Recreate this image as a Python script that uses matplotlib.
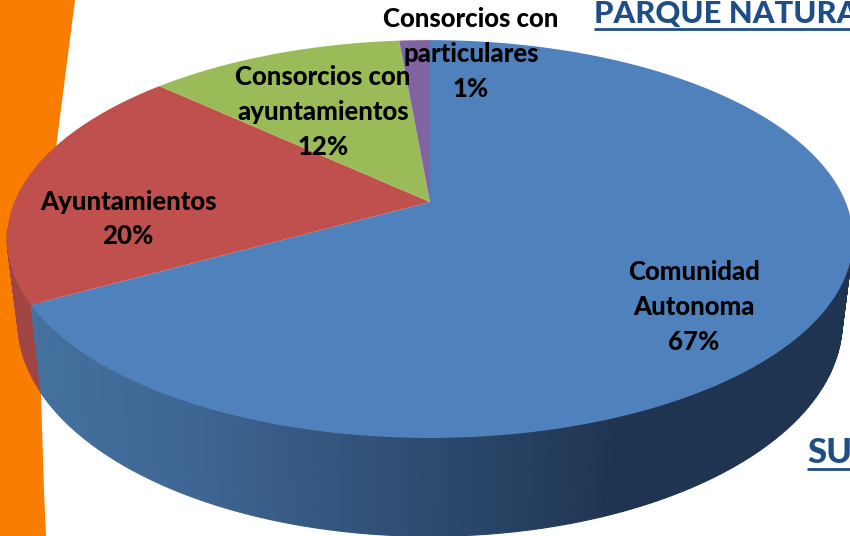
import numpy as np
import matplotlib
matplotlib.use("Agg")
import matplotlib.pyplot as plt
from matplotlib.colors import LinearSegmentedColormap

# data
categories = ["Comunidad\nAutonoma", "Ayuntamientos", "Consorcios con\nayuntamientos", "Consorcios con\nparticulares"]
shares = [66.9, 20.0, 11.7, 1.4]
colors = ["#4F81BD", "#C0504D", "#9BBB59", "#8064A2"]
label_xy = [(694, 307), (128, 219), (323, 112), (471, 54)]
title_text = "PARQUE NATURAL"
sub_text = "SU"

# projected disc geometry (pixels)
K = 0.186
CX, CY, RX, RY = 430, 202, 415.6, 192
CX2, CY2, RX2, RY2 = 430, 282, 405, 207


def top(theta):
    u, v = np.cos(theta), np.sin(theta)
    w = 1 + K * v
    return CX + RX * u / w, CY - RY * v / w


def bottom(theta):
    u, v = np.cos(theta), np.sin(theta)
    w = 1 + K * v
    return CX2 + RX2 * u / w, CY2 - RY2 * v / w


fig = plt.figure(figsize=(8.5, 5.36), dpi=100, facecolor="white")
ax = fig.add_axes([0, 0, 1, 1])
ax.set_xlim(0, 850)
ax.set_ylim(536, 0)
ax.axis("off")

# orange band at left
by = np.array([0, 70, 140, 230, 320, 395, 490, 536])
bx = np.array([75, 66, 57, 47, 41, 41, 44, 46])
ax.fill(np.r_[0, bx, 0], np.r_[0, by, 536], color="#F97D00", lw=0, zorder=1)

# slice boundaries, clockwise from 12 o'clock
fr = np.r_[0, np.cumsum(shares)] / np.sum(shares)
angles = np.pi / 2 - 2 * np.pi * fr

# side wall: red part
edges = np.linspace(angles[1], np.radians(-172), 30)
for a, b in zip(edges[:-1], edges[1:]):
    seg = np.array([a, b])
    xa, ya = top(seg)
    xb, yb = bottom(seg)
    ax.fill(np.r_[xa, xb[::-1]], np.r_[ya, yb[::-1]], color="#A04545", ec="#A04545", lw=0.5, zorder=2)

# side wall: blue part with left-to-right shading
cmap = LinearSegmentedColormap.from_list(
    "side", [(0, "#44719F"), (0.2, "#3E6593"), (0.5, "#2C4A6E"), (0.72, "#1F3450"), (1, "#1F3450")])
edges = np.linspace(angles[1], np.radians(-5), 220)
for a, b in zip(edges[:-1], edges[1:]):
    seg = np.linspace(a, b, 3)
    xa, ya = top(seg)
    xb, yb = bottom(seg)
    c = cmap(np.clip((xb.mean() - 40) / 800, 0, 1))
    ax.fill(np.r_[xa, xb[::-1]], np.r_[ya, yb[::-1]], fc=c, ec=c, lw=0.8, zorder=3)

# top face
for i, col in enumerate(colors):
    seg = np.linspace(angles[i], angles[i + 1], 300)
    xa, ya = top(seg)
    ax.fill(np.r_[CX, xa], np.r_[CY, ya], color=col, lw=0, zorder=4)

# slice labels
for name, share, (lx, ly) in zip(categories, shares, label_xy):
    ax.text(lx, ly, f"{name}\n{share:.0f}%", ha="center", va="center", family="Lato",
            weight="black", fontsize=18.5, linespacing=1.54, color="black", zorder=6)

# cropped slide titles
ax.text(594, 23, title_text, ha="left", va="baseline", family="Lato", weight="black",
        fontsize=22.3, color="#1F4E86", zorder=6, clip_on=True)
ax.plot([594, 850], [28.5, 28.5], color="#1F4E86", lw=2, zorder=6, solid_capstyle="butt")
ax.text(807, 463, sub_text, ha="left", va="baseline", family="Lato", weight="black",
        fontsize=25, color="#1F4E86", zorder=6, clip_on=True)
ax.plot([807, 850], [469, 469], color="#1F4E86", lw=2, zorder=6, solid_capstyle="butt")

fig.savefig("out.png", dpi=100, facecolor="white")
